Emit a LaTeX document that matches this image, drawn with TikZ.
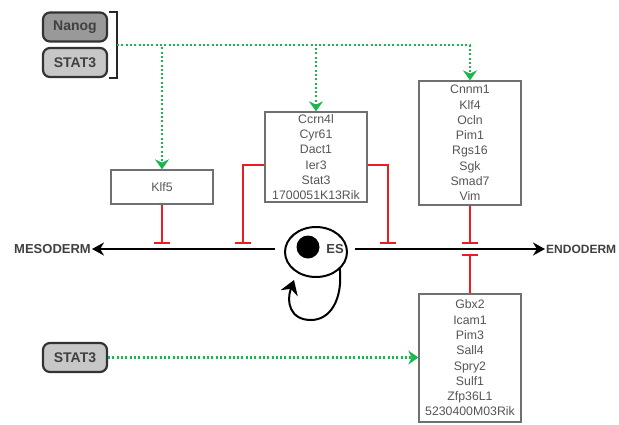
\documentclass[tikz,border=0pt]{standalone}
\usepackage{fontspec}
\setmainfont{Liberation Sans}
\usetikzlibrary{arrows.meta,shapes.geometric}
\definecolor{actgreen}{RGB}{30,180,80}
\definecolor{inhred}{RGB}{236,28,36}
\definecolor{txtgray}{RGB}{85,85,85}
\definecolor{boxgray}{RGB}{112,112,112}
\tikzstyle{gene}=[shape=rectangle,
                  draw=boxgray,
                  line width=1.3pt,
                  text=txtgray,
                  font=\fontsize{12.3}{15.3}\selectfont,
                  align=center,
                  minimum width=102pt,
                  inner sep=1pt]
\tikzstyle{reg}=[shape=rectangle,
                 rounded corners=7pt,
                 draw=black!80,
                 line width=2.2pt,
                 text=black!75,
                 font=\fontsize{14}{16}\selectfont\bfseries,
                 minimum width=64pt,
                 minimum height=29pt]
\tikzstyle{fate}=[text=black!75,
                  inner sep=1pt,
                  font=\fontsize{12}{14}\selectfont\bfseries]
\tikzstyle{act}=[actgreen,
                 line width=2.3pt,
                 dash pattern=on 2pt off 2.3pt,
                 -{Stealth[length=10pt,width=14pt]}]
\tikzstyle{inh}=[inhred,
                 line width=1.6pt,
                 -{Bar[width=16pt,line width=2pt]}]
\tikzstyle{fatearrow}=[line width=2pt,
                       -{Stealth[length=12pt,width=13pt]}]
\begin{document}
\begin{tikzpicture}[x=1pt,y=-1pt]
\useasboundingbox (0,0) rectangle (619,424);
% regulators (x)
\node[reg,fill=black!40] (nanog)  at (75,27)    {Nanog};
\node[reg,fill=black!22] (stat3a) at (75,62.5)  {STAT3};
\node[reg,fill=black!22] (stat3b) at (75,357.5) {STAT3};

% bracket round Nanog and STAT3
\draw[line width=1.8pt,black!85] (109,12) -- (117,12) -- (117,78) -- (109,78);
\coordinate (br) at (117,45);

% target genes
\node[gene,minimum height=34pt]  (klf5) at (162,187) {Klf5};
\node[gene,minimum height=90pt]  (ccrn) at (316,157) {Ccrn4l\\Cyr61\\Dact1\\Ier3\\Stat3\\1700051K13Rik};
\node[gene,minimum height=124pt] (cnnm) at (470,143) {Cnnm1\\Klf4\\Ocln\\Pim1\\Rgs16\\Sgk\\Smad7\\Vim};
\node[gene,minimum height=128pt] (gbx2) at (470,358) {Gbx2\\Icam1\\Pim3\\Sall4\\Spry2\\Sulf1\\Zfp36L1\\5230400M03Rik};

% ES cell and the two fates
\node[ellipse,draw,line width=2pt,minimum width=62pt,minimum height=50pt,outer sep=0pt] (es) at (316,252) {};
\node[circle,fill=black,minimum size=23pt,inner sep=0pt] (nucleus) at (308,247) {};
\node[fate,font=\fontsize{13}{15}\selectfont\bfseries] (eslbl) at (335,249) {ES};
\node[fate,anchor=east,font=\fontsize{13}{15}\selectfont\bfseries] (meso) at (92,249) {MESODERM};
\node[fate,anchor=west] (endo) at (545,249) {ENDODERM};

\draw[fatearrow,shorten <=10pt] ([yshift=3pt]es.west) -- (meso);
\draw[fatearrow,shorten <=8pt]  ([yshift=3pt]es.east) -- (endo);
\coordinate (loopend) at (294,280);
\draw[line width=2pt,-{Stealth[length=14pt,width=18pt]}]
      (es.-34) .. controls (343,300) and (330,320) .. (311,320)
               .. controls (290,320) and (286,302) .. (loopend);

% repression (red bars)
\coordinate (m1) at (162,244);
\coordinate (m2) at (243,244);
\coordinate (e1) at (388,244);
\coordinate (e2) at (470,244);
\coordinate (e3) at (470,254);
\draw[inh] (klf5) -- (m1);
\draw[inh] ([yshift=-8pt]ccrn.west) -| (m2);
\draw[inh] ([yshift=-8pt]ccrn.east) -| (e1);
\draw[inh] (cnnm) -- (e2);
\draw[inh] (gbx2) -- (e3);

% activation (green dots)
\draw[act] (br) -| (klf5);
\draw[act] (br) -| (ccrn);
\draw[act] (br) -| (cnnm);
\draw[act] (stat3b) -- (gbx2.west |- stat3b);
\end{tikzpicture}
\end{document}
